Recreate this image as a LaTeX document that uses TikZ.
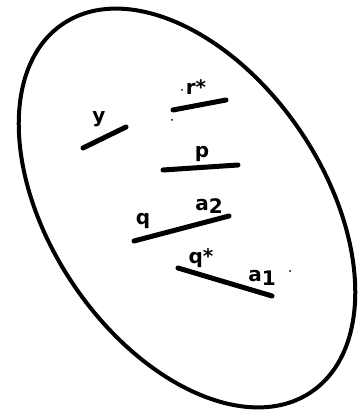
\documentclass[tikz,border=0pt]{standalone}
\usepackage{fontspec}
\setmainfont{DejaVu Sans}
\begin{document}
\begin{tikzpicture}[x=1pt,y=1pt,
  seg/.style={line width=5pt,line cap=round},
  lbl/.style={font=\fontsize{20}{20}\selectfont\bfseries,inner sep=0pt},
  speck/.style={fill=black,circle,inner sep=0pt,minimum size=2pt}]
\useasboundingbox (0,0) rectangle (359,414);
\fill[white] (0,0) rectangle (359,414);
% oval
\coordinate (c) at (187,206);
\draw[line width=4pt,rotate around={-56:(c)}] (c) ellipse [x radius=222, y radius=137];
% segments
\coordinate (y1) at (83,266);  \coordinate (y2) at (126,287);
\coordinate (r1) at (173,304); \coordinate (r2) at (226,314);
\coordinate (p1) at (163,244); \coordinate (p2) at (238,249);
\coordinate (q1) at (134,173); \coordinate (q2) at (229,198);
\coordinate (s1) at (178,146); \coordinate (s2) at (272,118);
\draw[seg] (y1) -- (y2);
\draw[seg] (r1) -- (r2);
\draw[seg] (p1) -- (p2);
\draw[seg] (q1) -- (q2);
\draw[seg] (s1) -- (s2);
% labels
\node[lbl] (ly) at (99,295) {y};
\node[lbl] (lr) at (196,327) {r*};
\node[lbl] (lp) at (202,260) {p};
\node[lbl] (lq) at (143,193) {q};
\node[lbl] (la2) at (209,208) {a\raisebox{-3pt}{2}};
\node[lbl] (lqs) at (201,156) {q*};
\node[lbl] (la1) at (262,136) {a\raisebox{-4pt}{1}};
% specks
\node[speck] (d1) at (182,324) {};
\node[speck] (d2) at (172,294) {};
\node[speck] (d3) at (290,143) {};
\end{tikzpicture}
\end{document}
